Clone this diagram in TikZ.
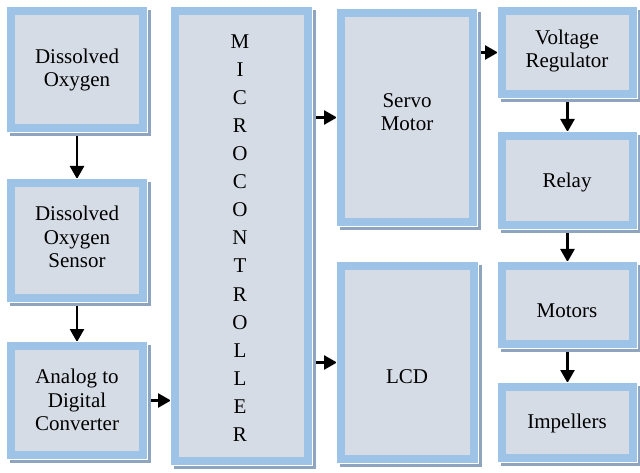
\documentclass[tikz,border=0pt]{standalone}
\usepackage{fontspec}
\setmainfont{Liberation Serif}
\usetikzlibrary{arrows.meta}
\definecolor{bordercol}{HTML}{9DC3E6}
\definecolor{fillcol}{HTML}{D6DCE5}
\definecolor{shadowcol}{HTML}{8FA5BF}
\pgfdeclarelayer{arrowlayer}
\pgfdeclarelayer{shadowlayer}
\pgfsetlayers{arrowlayer,shadowlayer,main}
\begin{document}
\begin{tikzpicture}[x=1pt,y=-1pt,
  box/.style={fill=fillcol, draw=bordercol, line width=8pt, outer sep=4pt, inner sep=0pt,
              preaction={draw=white, line width=9.6pt}},
  lbl/.style={font=\rmfamily\fontsize{21}{23.5}\selectfont, align=center, inner sep=0pt, text=black},
  arr/.style={line width=2.5pt, -{Triangle[length=13pt,width=14pt]}}]
\useasboundingbox (0,0) rectangle (640,473);
% boxes
\node[box, minimum width=132pt, minimum height=117pt] (do) at (77,69.5) {};
\node[box, minimum width=132pt, minimum height=115pt] (dos) at (77,240.5) {};
\node[box, minimum width=132pt, minimum height=109pt] (adc) at (77,400.5) {};
\node[box, minimum width=133pt, minimum height=450pt] (mc) at (241.5,236) {};
\node[box, minimum width=132pt, minimum height=209pt] (servo) at (407,117.5) {};
\node[box, minimum width=133pt, minimum height=193pt] (lcd) at (407.5,362.5) {};
\node[box, minimum width=131pt, minimum height=83pt] (vr) at (567.5,52.5) {};
\node[box, minimum width=131pt, minimum height=89pt] (relay) at (567.5,180.5) {};
\node[box, minimum width=131pt, minimum height=78pt] (motors) at (567.5,305) {};
\node[box, minimum width=131pt, minimum height=71pt] (imp) at (567.5,422.5) {};
% labels
\node[lbl] (dot) at (77,70) {Dissolved\\Oxygen};
\node[lbl] (dost) at (77,237) {Dissolved\\Oxygen\\Sensor};
\node[lbl] (adct) at (77,400) {Analog to\\Digital\\Converter};
\node[lbl, font=\rmfamily\fontsize{21}{28.1}\selectfont] (mct) at (240,238)
  {M\\I\\C\\R\\O\\C\\O\\N\\T\\R\\O\\L\\L\\E\\R};
\node[lbl] (servot) at (407,112) {Servo\\Motor};
\node[lbl] (lcdt) at (407,377) {LCD};
\node[lbl] (vrt) at (567,51) {Voltage\\Regulator};
\node[lbl] (relayt) at (567,182) {Relay};
\node[lbl] (motorst) at (567,311) {Motors};
\node[lbl] (impt) at (567,423) {Impellers};
% shadows
\begin{pgfonlayer}{shadowlayer}
\foreach \n in {do,dos,adc,mc,servo,lcd,vr,relay,motors,imp}{
  \fill[shadowcol] ([shift={(3,3)}]\n.north west) rectangle ([shift={(4,4)}]\n.south east);
}
\end{pgfonlayer}
% connectors
\begin{pgfonlayer}{arrowlayer}
\draw[arr] (do.south) -- (dos.north);
\draw[arr] (dos.south) -- (adc.north);
\draw[arr] (adc.east) -- (adc.east -| mc.west);
\draw[arr] (mc.east |- servo.west) -- (servo.west);
\draw[arr] (mc.east |- lcd.west) -- (lcd.west);
\draw[arr] (servo.east |- vr.west) -- (vr.west);
\draw[arr] (vr.south) -- (relay.north);
\draw[arr] (relay.south) -- (motors.north);
\draw[arr] (motors.south) -- (imp.north);
\end{pgfonlayer}
\end{tikzpicture}
\end{document}
